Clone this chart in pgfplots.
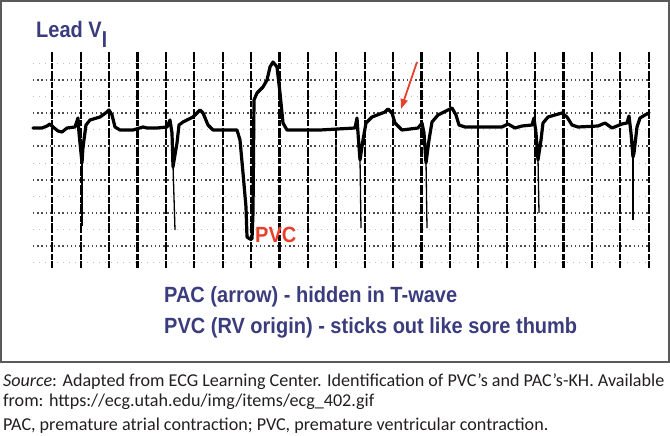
\documentclass[border=0pt]{standalone}
\usepackage{pgfplots}
\pgfplotsset{compat=1.18}
\usepackage{fontspec}
\setmainfont{Carlito}
\newfontfamily\hel{Liberation Sans}
\usetikzlibrary{arrows.meta}
\definecolor{Navy}{HTML}{3A3C7D}
\definecolor{PvcRed}{HTML}{E8402A}
\definecolor{Frame}{HTML}{5A5A5A}
\definecolor{Body}{HTML}{231F20}

\begin{document}
\begin{tikzpicture}
\begin{axis}[
  scale only axis, width=670bp, height=436bp,
  xmin=0, xmax=670, ymin=0, ymax=436, y dir=reverse,
  hide axis, clip=false,
]
% frame round the strip
\draw[Frame, line width=1.4bp] (axis cs:1,1) rectangle (axis cs:669,362);

% paper grid: dotted rows, broken black columns
\pgfplotsinvokeforeach{63,96,129,163,196,229,262}{
  \draw[black!25, line width=0.8bp, dash pattern=on 1bp off 5bp] (axis cs:33,#1) -- (axis cs:650,#1);
}
\pgfplotsinvokeforeach{80,113,146,180,213,246}{
  \draw[black!70, line width=1.2bp, dash pattern=on 1.4bp off 2.8bp] (axis cs:33,#1) -- (axis cs:650,#1);
}
\pgfplotsinvokeforeach{0,...,21}{
  \draw[black, line width=2.1bp, dash pattern=on 10bp off 1.5bp on 6bp off 1.5bp]
    (axis cs:{52.3+28.4*#1},52) -- (axis cs:{52.3+28.4*#1},268);
}

% ECG trace, lead V1
\addplot[black, line width=3.2bp, line join=round, line cap=round] coordinates {
  (33,128)(42,128)(47,126)(50,124)(53,127)(58,131)(62,132)(67,128)(75,127)
  (78,118)(79,133)(82,163)(83,147)(86,125)(90,120)(100,117)(107,112)(109,110)
  (112,115)(115,127)(120,130)(133,130)(143,127)(147,128)(157,128)(167,127)
  (170,120)(172,133)(173,167)(177,143)(179,125)(183,122)(193,117)(200,110)
  (203,113)(208,125)(213,130)(237,130)(240,140)(243,173)(246,207)(247,237)
  (250,239)(252,239)(253,213)(254,100)(257,93)(263,87)(267,80)(270,67)
  (273,62)(277,67)(280,93)(283,123)(287,130)(320,130)(355,128)(357,118)
  (358,133)(360,160)(363,140)(366,123)(372,117)(385,112)(388,109)(392,113)
  (395,123)(402,130)(418,128)(422,123)(424,133)(426,163)(429,140)(432,122)
  (438,115)(448,110)(452,108)(456,115)(459,125)(465,127)(502,127)(508,124)
  (515,128)(522,126)(532,125)(534,118)(536,133)(538,160)(541,140)(543,123)
  (548,117)(562,113)(567,117)(572,125)(578,127)(598,126)(605,123)(612,128)
  (622,124)(627,123)(629,116)(631,133)(633,157)(634,153)(637,127)(640,118)
  (645,115)(649,113)
};
% faint deep S tips
\addplot[black, line width=1.3bp] coordinates {(82,160)(82,226)};
\addplot[black, line width=1.3bp] coordinates {(173,165)(175,230)};
\addplot[black, line width=1.3bp] coordinates {(360,158)(361,228)};
\addplot[black, line width=1.3bp] coordinates {(426,160)(427,228)};
\addplot[black, line width=1.3bp] coordinates {(538,158)(539,213)};
\addplot[black, line width=1.3bp] coordinates {(633,155)(633,220)};

% PAC arrow
\draw[PvcRed, line width=1.8bp, -{Triangle[length=10bp,width=7bp]}] (axis cs:417,62) -- (axis cs:401,109);

% labels
\node[anchor=base west, inner sep=0, text=Navy, font=\hel\bfseries\fontsize{20bp}{24bp}\selectfont]
  at (axis cs:36,38) {\scalebox{1}[1.12]{Lead V}\raisebox{-10bp}{\scalebox{0.95}[1.15]{I}}};
\node[anchor=base west, inner sep=0, text=PvcRed, font=\hel\bfseries\fontsize{20bp}{24bp}\selectfont]
  at (axis cs:255,242) {\scalebox{1}[1.1]{PVC}};
\node[anchor=base west, inner sep=0, text=Navy, font=\hel\bfseries\fontsize{20bp}{24bp}\selectfont]
  at (axis cs:164,302) {\scalebox{1}[1.1]{PAC (arrow) - hidden in T-wave}};
\node[anchor=base west, inner sep=0, text=Navy, font=\hel\bfseries\fontsize{20bp}{24bp}\selectfont]
  at (axis cs:164,333) {\scalebox{1}[1.1]{PVC (RV origin) - sticks out like sore thumb}};

% caption below the frame
\node[anchor=base west, inner sep=0, text=Body, font=\fontsize{18.1bp}{22bp}\selectfont]
  at (axis cs:3,386) {\textit{Source}: Adapted from ECG Learning Center. Identification of PVC’s and PAC’s-KH. Available};
\node[anchor=base west, inner sep=0, text=Body, font=\fontsize{18.1bp}{22bp}\selectfont]
  at (axis cs:3,406) {from: https://ecg.utah.edu/img/items/ecg\_402.gif};
\node[anchor=base west, inner sep=0, text=Body, font=\fontsize{18.1bp}{22bp}\selectfont]
  at (axis cs:3,430) {PAC, premature atrial contraction; PVC, premature ventricular contraction.};
\end{axis}
\pgfresetboundingbox
\path[use as bounding box] (0,0) rectangle (670bp,436bp);
\end{tikzpicture}
\end{document}
